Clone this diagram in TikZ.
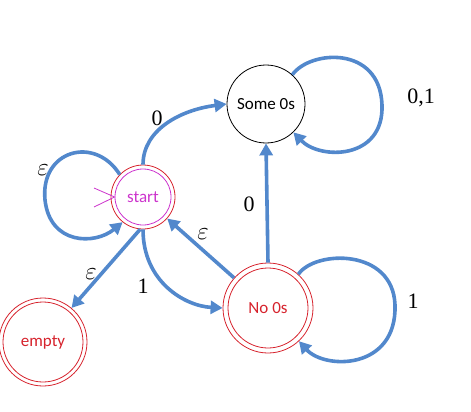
\documentclass[tikz,border=0pt]{standalone}
\usepackage{fontspec}
\setmainfont{Liberation Serif}
\newfontfamily\statefont{Carlito}
\usetikzlibrary{arrows.meta}
\definecolor{edgeblue}{RGB}{82,136,204}
\definecolor{statered}{RGB}{214,34,44}
\definecolor{startmag}{RGB}{204,51,204}
\begin{document}
\begin{tikzpicture}[x=1pt,y=-1pt,
  edge/.style={draw=edgeblue,line width=3.6pt,-{Triangle[length=12pt,width=13pt]}},
  ring/.style={circle,line width=0.8pt,inner sep=0pt},
  lab/.style={anchor=base,inner sep=0pt,font=\fontsize{22}{24}\selectfont},
  elab/.style={anchor=base,inner sep=0pt,font=\fontsize{25}{27}\selectfont}
]
\useasboundingbox (0,0) rectangle (471,412);
% states
\node[ring,draw=black,minimum size=78pt,font=\statefont\fontsize{17}{19}\selectfont] (some) at (266,104) {Some 0s};
\node[ring,draw=statered,minimum size=64pt] (start) at (143,197) {};
\node[ring,draw=startmag,minimum size=56pt,text=startmag,font=\statefont\fontsize{17}{19}\selectfont] (startin) at (start.center) {start};
\node[ring,draw=statered,minimum size=90pt] (no) at (268,308) {};
\node[ring,draw=statered,minimum size=80pt,text=statered,font=\statefont\fontsize{17}{19}\selectfont] (noin) at (no.center) {No 0s};
\node[ring,draw=statered,minimum size=88pt] (empty) at (43,342) {};
\node[ring,draw=statered,minimum size=80pt,text=statered,font=\statefont\fontsize{17}{19}\selectfont] (emptyin) at (empty.center) {empty};
% start marker
\coordinate (ch1) at (94,188);
\coordinate (ch2) at (94,207);
\draw[startmag,line width=0.8pt] (ch1) -- (startin.180) -- (ch2);
% edges
\draw[edge] (start.north) .. controls (143,130) and (180,110) .. (some.west);
\draw[edge] (no.north) -- (some.south);
\draw[edge] (no) -- (start);
\draw[edge] (start.-95) -- (empty.50);
\draw[edge] (start.south) .. controls (143,282) and (185,306) .. (no.west);
% loops
\draw[edge] (start.136) .. controls (95,135) and (40,150) .. (45,200) .. controls (50,245) and (95,245) .. (start.231);
\draw[edge] (some.48) .. controls (310,50) and (380,45) .. (382,105) .. controls (384,160) and (320,160) .. (some.-46);
\draw[edge] (no.48) .. controls (315,250) and (393,248) .. (395,305) .. controls (397,370) and (325,370) .. (no.-47);
% labels
\node[lab] (l1) at (157,125) {0};
\node[lab] (l2) at (249,211) {0};
\node[lab] (l3) at (143,293) {1};
\node[lab] (l4) at (413,308) {1};
\node[lab] (l5) at (421,103) {0,1};
\node[elab] (l6) at (43,175) {$\varepsilon$};
\node[elab] (l7) at (203,239) {$\varepsilon$};
\node[elab] (l8) at (91,279) {$\varepsilon$};
\end{tikzpicture}
\end{document}
